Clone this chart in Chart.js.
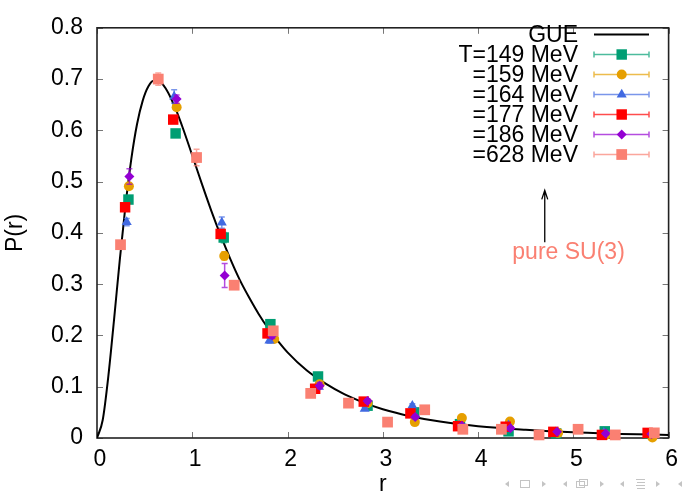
<!DOCTYPE html>
<html><head><meta charset="utf-8">
<script src="https://cdn.jsdelivr.net/npm/chart.js@4/dist/chart.umd.min.js"></script>
<style>html,body{margin:0;padding:0;background:#fff;}#wrap{width:683px;height:496px;position:relative;}</style>
</head><body><div id="wrap"><canvas id="c" width="683" height="496"></canvas></div>
<script>
const FONT = '"Liberation Sans", Arial, Helvetica, sans-serif';
const xTicks = [0, 1, 2, 3, 4, 5, 6];
const yTicks = [0, 0.1, 0.2, 0.3, 0.4, 0.5, 0.6, 0.7, 0.8];
const xTitle = 'r';
const yTitle = 'P(r)';
const curveLabel = 'GUE';
const seriesLabels = ['T=149 MeV', '=159 MeV', '=164 MeV', '=177 MeV', '=186 MeV', '=628 MeV'];
const noteText = 'pure SU(3)';
const noteArrow = { x: 4.70, yFrom: 0.382, yTo: 0.483, textX: 4.95, textY: 0.361 };

// GUE curve
const gueR = [0,0.06,0.12,0.18,0.24,0.30,0.36,0.42,0.48,0.54,0.60,0.66,0.72,0.78,0.84,0.90,1.0,1.1,1.2,1.3,1.4,1.5,1.6,1.7,1.8,1.9,2.0,2.2,2.4,2.6,2.8,3.0,3.3,3.6,4.0,4.5,5.0,5.5,6.0];
const gueP = [0,0.035,0.122,0.233,0.349,0.455,0.544,0.612,0.658,0.686,0.697,0.695,0.682,0.661,0.635,0.605,0.551,0.496,0.443,0.394,0.349,0.308,0.273,0.241,0.213,0.189,0.167,0.132,0.106,0.085,0.069,0.056,0.042,0.032,0.023,0.016,0.011,0.008,0.006];

// T=149 MeV
const r149 = [0.33,0.825,1.33,1.82,2.32,2.84,3.33,3.81,4.32,4.82,5.33,5.80];
const p149 = [0.465,0.594,0.391,0.222,0.120,0.063,0.050,0.027,0.013,0.009,0.013,0.009];
const e149 = [0.006,0.006,0.010,0.005,0.004,0.003,0.003,0.002,0.002,0.002,0.002,0.002];
// 159 MeV
const r159 = [0.335,0.836,1.336,1.86,2.337,2.84,3.336,3.83,4.335,4.84,5.34,5.83];
const p159 = [0.491,0.645,0.355,0.193,0.105,0.068,0.031,0.039,0.032,0.010,0.006,0.001];
const e159 = [0.006,0.006,0.008,0.004,0.003,0.003,0.002,0.002,0.002,0.002,0.002,0.002];
// 164 MeV
const r164 = [0.312,0.81,1.31,1.81,2.33,2.81,3.31,3.80,4.32,4.81,5.32,5.80];
const p164 = [0.421,0.666,0.420,0.190,0.100,0.057,0.063,0.025,0.025,0.011,0.010,0.008];
const e164 = [0.007,0.013,0.011,0.005,0.004,0.003,0.004,0.002,0.002,0.002,0.002,0.002];
// 177 MeV
const r177 = [0.295,0.80,1.298,1.79,2.29,2.80,3.29,3.79,4.29,4.79,5.30,5.78];
const p177 = [0.450,0.621,0.398,0.204,0.096,0.071,0.048,0.023,0.022,0.012,0.006,0.010];
const e177 = [0.005,0.006,0.006,0.004,0.003,0.003,0.003,0.002,0.002,0.002,0.002,0.002];
// 186 MeV
const r186 = [0.34,0.836,1.34,1.84,2.337,2.84,3.34,3.83,4.34,4.83,5.34,5.82];
const p186 = [0.510,0.661,0.317,0.200,0.102,0.072,0.041,0.024,0.019,0.012,0.009,0.008];
const e186 = [0.015,0.008,0.0235,0.006,0.006,0.004,0.004,0.003,0.003,0.002,0.002,0.002];
// 628 MeV
const r628 = [0.247,0.643,1.045,1.44,1.85,2.243,2.64,3.05,3.44,3.84,4.245,4.64,5.05,5.44,5.85];
const p628 = [0.377,0.700,0.547,0.298,0.209,0.087,0.068,0.031,0.055,0.017,0.017,0.006,0.017,0.006,0.010];
const e628 = [0.005,0.012,0.016,0.006,0.005,0.004,0.003,0.003,0.003,0.002,0.002,0.002,0.002,0.002,0.002];

const seriesR = [r149, r159, r164, r177, r186, r628];
const seriesP = [p149, p159, p164, p177, p186, p628];
const seriesE = [e149, e159, e164, e177, e186, e628];
const colors = ['#009E73', '#E69F00', '#4169E1', '#FF0000', '#9400D3', '#FA8072'];
const errColors = ['rgba(0,158,115,0.7)', 'rgba(230,159,0,0.7)', 'rgba(65,105,225,0.7)', 'rgba(255,0,0,0.7)', 'rgba(148,0,211,0.7)', 'rgba(250,128,114,0.7)'];
const styles = ['rect', 'circle', 'triangle', 'rect', 'rectRot', 'rect'];
const radii = [7.4, 5, 5.8, 7.4, 5, 7.6];

const datasets = [{
  label: curveLabel,
  data: gueR.map((r, i) => ({ x: r, y: gueP[i] })),
  showLine: true, borderColor: '#000', borderWidth: 2, pointRadius: 0,
  cubicInterpolationMode: 'monotone', order: 10
}];
seriesLabels.forEach((lab, k) => {
  datasets.push({
    label: lab,
    data: seriesR[k].map((r, i) => ({ x: r, y: seriesP[k][i] })),
    errs: seriesE[k], errColor: errColors[k],
    showLine: false, pointStyle: styles[k], pointRadius: radii[k], pointHoverRadius: radii[k],
    backgroundColor: colors[k], borderColor: colors[k], pointBorderWidth: 0,
    clip: false, order: 6 - k
  });
});

function marker(ctx, style, x, y, r, color) {
  ctx.save(); ctx.fillStyle = color; ctx.beginPath();
  if (style === 'rect') { const s = r * Math.SQRT1_2; ctx.rect(x - s, y - s, 2 * s, 2 * s); }
  else if (style === 'circle') { ctx.arc(x, y, r, 0, Math.PI * 2); }
  else if (style === 'triangle') {
    ctx.moveTo(x, y - r); ctx.lineTo(x + r * Math.sin(Math.PI * 2 / 3), y - r * Math.cos(Math.PI * 2 / 3));
    ctx.lineTo(x - r * Math.sin(Math.PI * 2 / 3), y - r * Math.cos(Math.PI * 2 / 3)); ctx.closePath();
  } else if (style === 'rectRot') { ctx.moveTo(x, y - r); ctx.lineTo(x + r, y); ctx.lineTo(x, y + r); ctx.lineTo(x - r, y); ctx.closePath(); }
  ctx.fill(); ctx.restore();
}

const errPlugin = {
  id: 'errbars',
  beforeDatasetDraw(chart, args) {
    const ds = chart.data.datasets[args.index];
    if (!ds.errs) return;
    const ctx = chart.ctx, xs = chart.scales.x, ys = chart.scales.y;
    ctx.save(); ctx.strokeStyle = ds.errColor; ctx.lineWidth = 1.5;
    ds.data.forEach((p, i) => {
      const e = ds.errs[i];
      const px = xs.getPixelForValue(p.x), y1 = ys.getPixelForValue(p.y - e), y2 = ys.getPixelForValue(p.y + e);
      ctx.beginPath();
      ctx.moveTo(px, y1); ctx.lineTo(px, y2);
      ctx.moveTo(px - 3, y1); ctx.lineTo(px + 3, y1);
      ctx.moveTo(px - 3, y2); ctx.lineTo(px + 3, y2);
      ctx.stroke();
    });
    ctx.restore();
  }
};

const framePlugin = {
  id: 'frame',
  beforeDatasetsDraw(chart) {
    const { ctx, chartArea: a, scales: { x, y } } = chart;
    ctx.save();
    ctx.strokeStyle = '#777'; ctx.lineWidth = 1;
    xTicks.forEach(v => {
      const px = Math.round(x.getPixelForValue(v)) + 0.5;
      ctx.beginPath(); ctx.moveTo(px, a.bottom); ctx.lineTo(px, a.bottom - 6);
      ctx.moveTo(px, a.top); ctx.lineTo(px, a.top + 6); ctx.stroke();
    });
    yTicks.forEach(v => {
      const py = Math.round(y.getPixelForValue(v)) + 0.5;
      ctx.beginPath(); ctx.moveTo(a.left, py); ctx.lineTo(a.left + 6, py);
      ctx.moveTo(a.right, py); ctx.lineTo(a.right - 6, py); ctx.stroke();
    });
    ctx.strokeStyle = '#222'; ctx.lineWidth = 1.6;
    ctx.strokeRect(a.left, a.top, a.right - a.left, a.bottom - a.top);
    ctx.restore();
  },
  afterDraw(chart) {
    const { ctx, scales: { x, y } } = chart;
    ctx.save();
    // legend
    const textRight = 578, lx0 = 594, lx1 = 649, lmid = 621.7;
    const rows = [34.5, 54.5, 74.5, 94.5, 114.5, 134.5, 154.5];
    ctx.font = '23px ' + FONT; ctx.textAlign = 'right'; ctx.textBaseline = 'middle'; ctx.fillStyle = '#000';
    chart.data.datasets.forEach((ds, i) => {
      const yy = rows[i];
      ctx.fillStyle = '#000';
      ctx.fillText(ds.label, textRight, yy + 1);
      if (i === 0) {
        ctx.strokeStyle = '#000'; ctx.lineWidth = 2;
        ctx.beginPath(); ctx.moveTo(lx0, yy); ctx.lineTo(lx1, yy); ctx.stroke();
      } else {
        ctx.strokeStyle = ds.errColor; ctx.lineWidth = 1.5;
        ctx.beginPath(); ctx.moveTo(lx0, yy); ctx.lineTo(lx1, yy);
        ctx.moveTo(lx0, yy - 3); ctx.lineTo(lx0, yy + 3);
        ctx.moveTo(lx1, yy - 3); ctx.lineTo(lx1, yy + 3); ctx.stroke();
        marker(ctx, ds.pointStyle, lmid, yy, ds.pointRadius, ds.backgroundColor);
      }
    });
    // annotation arrow
    const ax = x.getPixelForValue(noteArrow.x), ay0 = y.getPixelForValue(noteArrow.yFrom), ay1 = y.getPixelForValue(noteArrow.yTo);
    ctx.strokeStyle = '#000'; ctx.lineWidth = 1.3;
    ctx.beginPath(); ctx.moveTo(ax, ay0); ctx.lineTo(ax, ay1);
    ctx.moveTo(ax - 3, ay1 + 9); ctx.lineTo(ax, ay1); ctx.lineTo(ax + 3, ay1 + 9); ctx.stroke();
    ctx.fillStyle = '#FA8072'; ctx.textAlign = 'center'; ctx.font = '23px ' + FONT;
    ctx.fillText(noteText, x.getPixelForValue(noteArrow.textX), y.getPixelForValue(noteArrow.textY));
    // navigation symbols
    ctx.fillStyle = '#c4c4c4'; ctx.strokeStyle = '#c4c4c4'; ctx.lineWidth = 1;
    const ny = 484;
    const tri = (cx, dir) => { ctx.beginPath(); ctx.moveTo(cx - 2 * dir, ny); ctx.lineTo(cx + 2 * dir, ny - 3); ctx.lineTo(cx + 2 * dir, ny + 3); ctx.closePath(); ctx.fill(); };
    tri(507, 1); tri(544, -1); tri(565, 1); tri(602, -1); tri(622, 1); tri(658, -1); tri(680, 1);
    ctx.strokeRect(520.5, 480.5, 9, 7);
    ctx.strokeRect(576.5, 481.5, 8, 6); ctx.strokeRect(579.5, 479.5, 8, 6);
    ctx.beginPath();
    [479.5, 482.5, 485.5, 488.5].forEach((yy, i) => { ctx.moveTo(636 + (i % 2), yy); ctx.lineTo(645, yy); });
    ctx.stroke();
    ctx.restore();
  }
};

new Chart(document.getElementById('c'), {
  type: 'scatter',
  data: { datasets },
  plugins: [errPlugin, framePlugin],
  options: {
    responsive: false, animation: false, devicePixelRatio: 1,
    layout: { padding: { top: 19, right: 10, left: 0, bottom: 0 } },
    plugins: { legend: { display: false }, tooltip: { enabled: false } },
    scales: {
      x: {
        type: 'linear', min: 0, max: 6,
        afterBuildTicks: s => { s.ticks = xTicks.map(v => ({ value: v })); },
        afterFit: s => { s.height = 58; },
        grid: { display: false, drawTicks: false }, border: { display: false },
        ticks: { color: '#000', font: { family: FONT, size: 23 }, padding: 8, labelOffset: 3, maxRotation: 0, callback: v => String(v) },
        title: { display: true, text: xTitle, color: '#000', font: { family: FONT, size: 23, lineHeight: 1 }, padding: 0 }
      },
      y: {
        type: 'linear', min: 0, max: 0.8,
        afterBuildTicks: s => { s.ticks = yTicks.map(v => ({ value: v })); },
        afterFit: s => { s.width = 97; },
        grid: { display: false, drawTicks: false }, border: { display: false },
        ticks: { color: '#000', font: { family: FONT, size: 23 }, padding: 14, callback: v => String(v) },
        title: { display: true, text: yTitle, color: '#000', font: { family: FONT, size: 23, lineHeight: 1 }, padding: { top: 4, bottom: 0 } }
      }
    }
  }
});
</script></body></html>
